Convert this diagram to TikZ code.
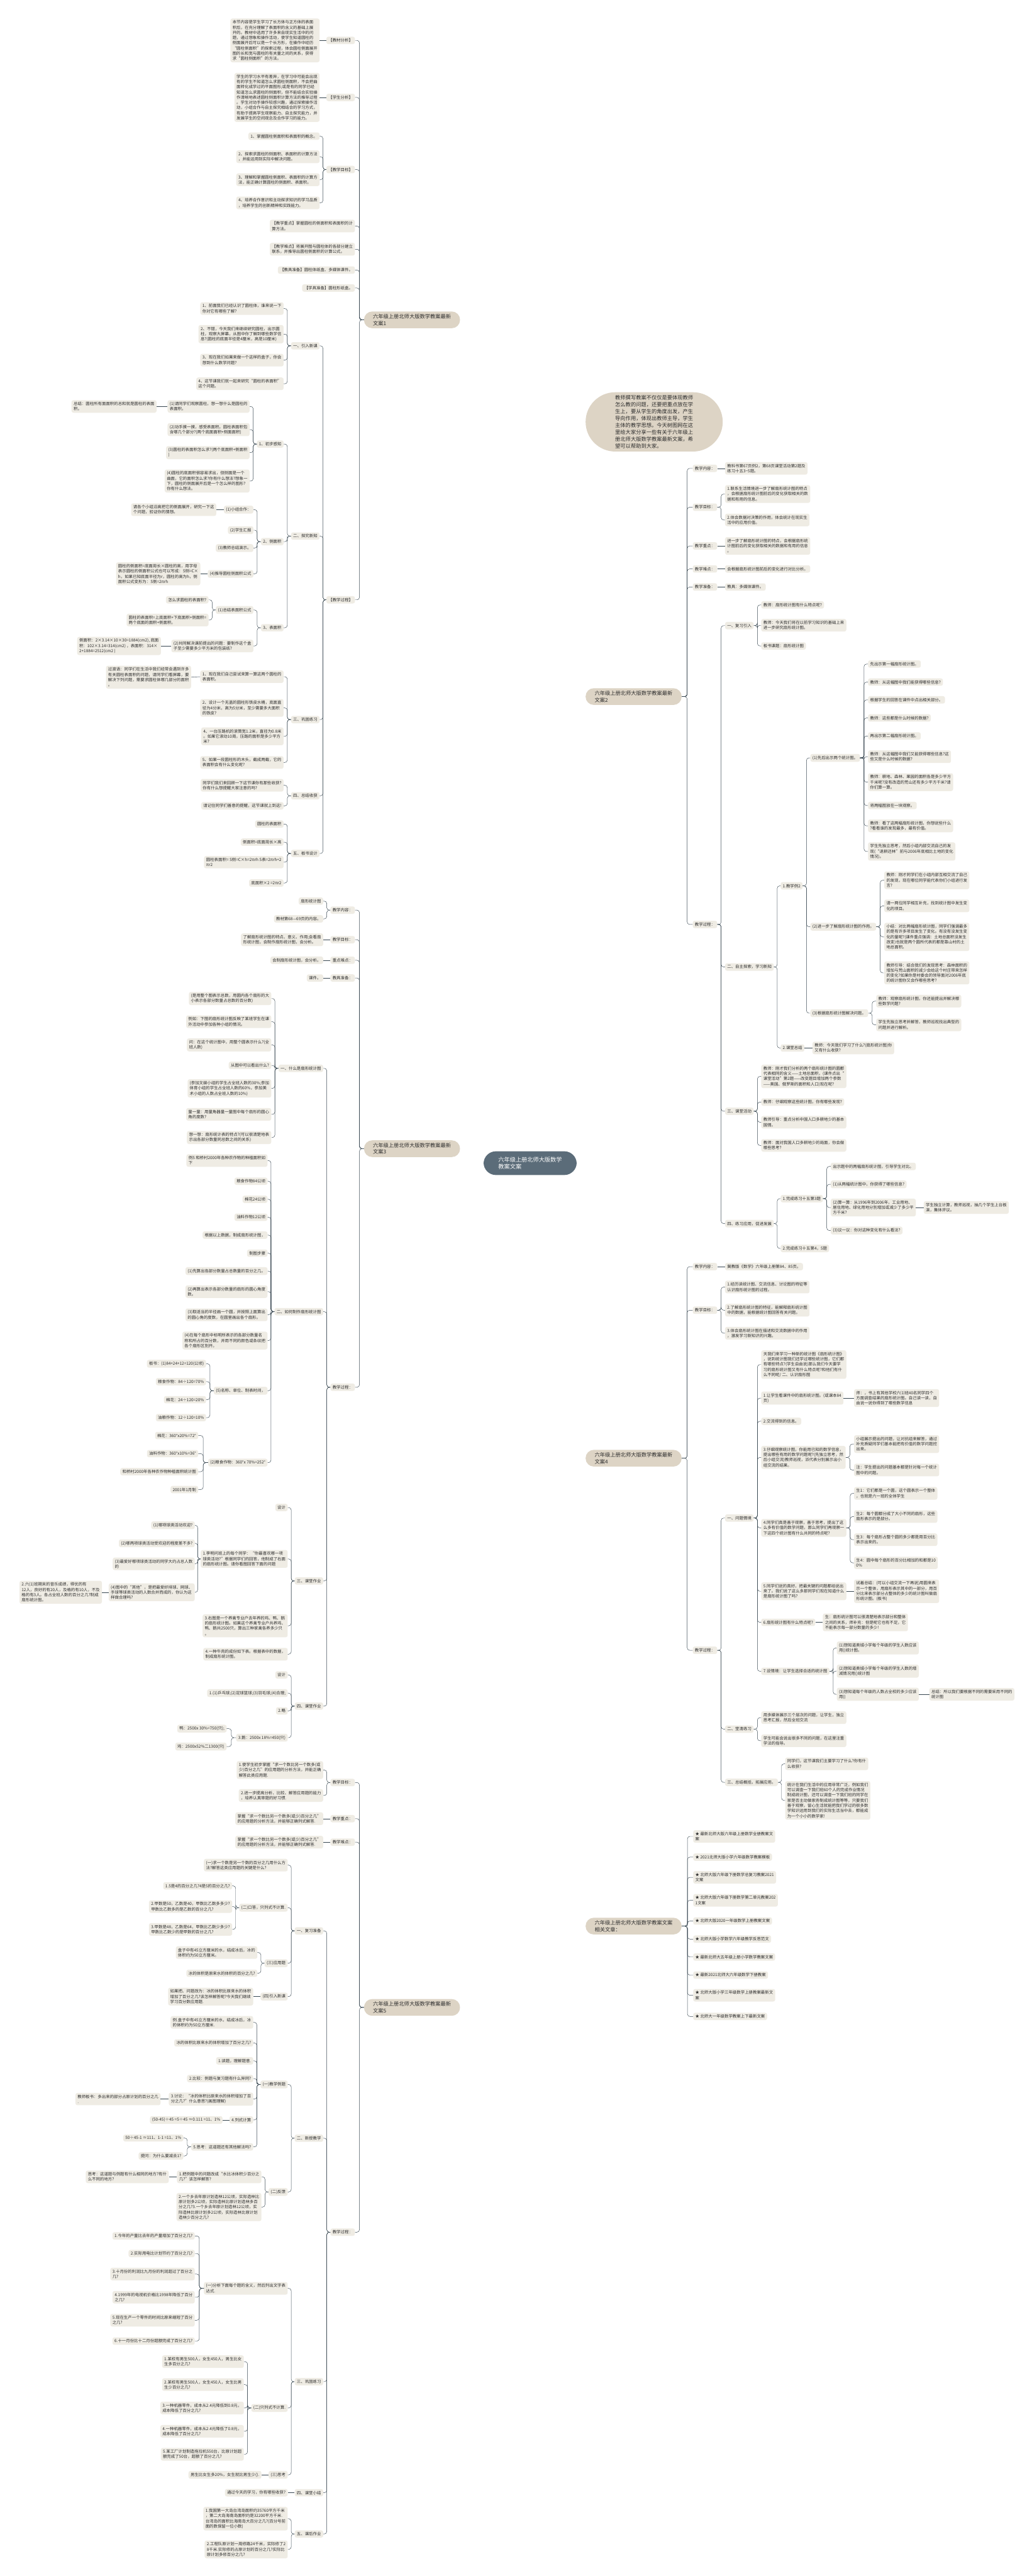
\documentclass[tikz,border=0pt]{standalone}
\usepackage{fontspec}
\setmainfont{Noto Sans CJK SC}
\usetikzlibrary{calc,backgrounds}
\definecolor{boxc}{RGB}{239,236,228}
\definecolor{topc}{RGB}{221,212,197}
\definecolor{rootc}{RGB}{91,108,121}
\definecolor{linec}{RGB}{55,70,80}
\definecolor{inkc}{RGB}{45,45,45}
\tikzset{
  leaf/.style={fill=boxc, text=inkc, rounded corners=1.2mm, inner xsep=1.3mm, inner ysep=1.1mm, align=left, font={\fontsize{7pt}{9pt}\selectfont}},
  lb/.style={leaf, anchor=east},
  rb/.style={leaf, anchor=west},
  topic/.style={fill=topc, text=inkc, rounded corners=5mm, inner xsep=5.5mm, inner ysep=1.6mm, align=left, font={\fontsize{9pt}{11.5pt}\selectfont}},
  desc/.style={fill=topc, text=inkc, rounded corners=18mm, inner xsep=18mm, inner ysep=1.8mm, align=left, anchor=west, font={\fontsize{9pt}{12pt}\selectfont}},
  rootbox/.style={fill=rootc, text=white, rounded corners=7.5mm, inner xsep=9mm, inner ysep=3.3mm, align=left, font={\fontsize{10pt}{13pt}\selectfont}},
  link/.style={draw=linec, line width=0.5pt, rounded corners=1.5mm},
  trunk/.style={draw=linec, line width=0.7pt}
}
% bracket links, left and right
\newcommand\toL[2]{\foreach \ch in {#2}{\draw[link] (#1.west) -| ($(#1.west)!.5!(\ch.east)$) |- (\ch.east);}}
\newcommand\toR[2]{\foreach \ch in {#2}{\draw[link] (#1.east) -| ($(#1.east)!.5!(\ch.west)$) |- (\ch.west);}}
\newcommand\oneL[2]{\draw[link] (#1.west) -- (#2.east);}
\newcommand\oneR[2]{\draw[link] (#1.east) -- (#2.west);}

\begin{document}
\begin{tikzpicture}[x=1mm, y=-1mm]
\fill[white] (0,0) rectangle (628,1568);
\useasboundingbox (0,0) rectangle (628,1568);

% root and main topics
\node[rootbox] (rootn) at (322.7,708) {六年级上册北师大版数学\\教案文案};
\node[desc] (intro) at (356.4,256.8) {教师撰写教案不仅仅是要体现教师\\怎么教的问题，还要把重点放在学\\生上，要从学生的角度出发，产生\\导向作用，体现出教师主导，学生\\主体的教学思想。今天树图网在这\\里给大家分享一些有关于六年级上\\册北师大版数学教案最新文案，希\\望可以帮助到大家。};
\node[topic, anchor=west] (A) at (221.5,194.7) {六年级上册北师大版数学教案最新\\文案1};
\node[topic, anchor=west] (B) at (356.4,424.0) {六年级上册北师大版数学教案最新\\文案2};
\node[topic, anchor=west] (C) at (221.5,699.2) {六年级上册北师大版数学教案最新\\文案3};
\node[topic, anchor=west] (D) at (356.4,887.6) {六年级上册北师大版数学教案最新\\文案4};
\node[topic, anchor=west] (E) at (221.5,1221.9) {六年级上册北师大版数学教案最新\\文案5};
\node[topic, anchor=west] (F) at (356.4,1172.4) {六年级上册北师大版数学教案文案\\相关文章：};

\begin{scope}[on background layer]
\draw[trunk] (332,701) .. controls (333,287) and (337,256.8) .. (intro.west);
\draw[trunk] (332,701) .. controls (333,454) and (337,424.0) .. (B.west);
\draw[trunk] (332,716) .. controls (333,857) and (337,887.6) .. (D.west);
\draw[trunk] (332,716) .. controls (333,1142) and (337,1172.4) .. (F.west);
\draw[trunk] (306,701) .. controls (304,225) and (298,194.7) .. (A.east);
\draw[trunk] (302,708) .. controls (290,708) and (288,699.2) .. (C.east);
\draw[trunk] (306,716) .. controls (304,1192) and (298,1221.9) .. (E.east);
\end{scope}

% ================= 文案1
\node[lb] (a1) at (216.1,24.6) {【教材分析】};
\node[lb] (a1t) at (194.6,24.6) {本节内容是学生学习了长方体与正方体的表面\\积后，在充分理解了表面积的含义的基础上展\\开的。教材中选用了许多来自现实生活中的问\\题，通过想象和操作活动，使学生知道圆柱的\\侧面展开后可以是一个长方形，在操作中经历\\“圆柱侧面积”的探索过程，体会圆柱侧面展开\\图的长和宽与圆柱的有关量之间的关系，获得\\求“圆柱侧面积”的方法。};
\node[lb] (a2) at (216.1,59.3) {【学生分析】};
\node[lb] (a2t) at (194.6,59.3) {学生的学习水平有差异，在学习中可能会出现\\有的学生不知道怎么求圆柱侧面积，不会把曲\\面转化成学过的平面图形;或是有的同学已经\\知道怎么求圆柱的侧面积，但不能结合实验操\\作清晰地表述圆柱侧面积计算方法的推导过程\\。学生对动手操作较感兴趣，通过探索操作活\\动，小组合作与自主探究相结合的学习方式，\\有助于提高学生观察能力、自主探究能力，并\\发展学生的空间观念及合作学习的能力。};
\node[lb] (a3) at (216.1,103.2) {【教学目标】};
\node[lb] (a31) at (194.6,82.9) {1、掌握圆柱侧面积和表面积的概念。};
\node[lb] (a32) at (194.6,95.4) {2、探索求圆柱的侧面积、表面积的计算方法\\，并能运用到实际中解决问题。};
\node[lb] (a33) at (194.6,109.4) {3、理解和掌握圆柱侧面积、表面积的计算方\\法，能正确计算圆柱的侧面积、表面积。};
\node[lb] (a34) at (194.6,123.5) {4、培养合作意识和主动探求知识的学习品质\\，培养学生的创新精神和实践能力。};
\node[lb] (a4) at (216.1,137.6) {【教学重点】掌握圆柱的侧面积和表面积的计\\算方法。};
\node[lb] (a5) at (216.1,151.7) {【教学难点】将展开图与圆柱体的各部分建立\\联系，并推导出圆柱侧面积的计算公式。};
\node[lb] (a6) at (216.1,164.4) {【教具准备】圆柱体纸盒、多媒体课件。};
\node[lb] (a7) at (216.1,175.3) {【学具准备】圆柱形纸盒。};
\node[lb] (a8) at (216.1,365.1) {【教学过程】};
\node[lb] (a81) at (194.6,210.5) {一、引入新课};
\node[lb] (a811) at (172.7,187.8) {1、前面我们已经认识了圆柱体，谁来说一下\\你对它有哪些了解?};
\node[lb] (a812) at (172.7,203.4) {2、不错，今天我们来继续研究圆柱，出示圆\\柱，观察大屏幕，从图中你了解到哪些数学信\\息?(圆柱的底面半径是4厘米，高是10厘米)};
\node[lb] (a813) at (172.7,219.2) {3、现在我们如果来做一个这样的盒子，你会\\想到什么数学问题?};
\node[lb] (a814) at (172.7,233.6) {4、这节课我们就一起来研究“圆柱的表面积”\\这个问题。};
\node[lb] (a82) at (194.6,326.3) {二、探究新知};
\node[lb] (a821) at (172.7,270.3) {1、初步感知};
\node[lb] (a8211) at (152.0,247.4) {(1)请同学们观察圆柱，想一想什么是圆柱的\\表面积。};
\node[lb] (a8211x) at (95.4,247.4) {总结：圆柱所有面面积的总和就是圆柱的表面\\积。};
\node[lb] (a8212) at (152.0,261.5) {(2)动手摸一摸，感受表面积。圆柱表面积包\\含哪几个部分?(两个底面面积+侧面面积)};
\node[lb] (a8213) at (152.0,275.5) {(3)圆柱的表面积怎么求?(两个底面积+侧面积\\)};
\node[lb] (a8214) at (152.0,292.8) {(4)圆柱的底面积很容易求出，但侧面是一个\\曲面，它的面积怎么求?你有什么想法?想象一\\下，圆柱的侧面展开后是一个怎么样的图形?\\你有什么想法。};
\node[lb] (a822) at (172.7,329.7) {2、侧面积};
\node[lb] (a8221) at (154.3,310.2) {(1)小组合作：};
\node[lb] (a8221x) at (131.7,310.2) {请各个小组沿高把它的侧面展开，研究一下这\\个问题，验证你的猜想。};
\node[lb] (a8222) at (154.3,322.7) {(2)学生汇报};
\node[lb] (a8223) at (154.3,333.6) {(3)教师总结演示。};
\node[lb] (a8224) at (154.3,349.3) {(4)推导圆柱侧面积公式};
\node[lb] (a8224x) at (122.0,349.3) {圆柱的侧面积=底面周长×圆柱的高，用字母\\表示圆柱的侧面积公式也可以写成：S侧=C×\\h，如果已知底面半径为r，圆柱的高为h，侧\\面积公式变形为：S侧=2πrh};
\node[lb] (a823) at (172.7,382.1) {3、表面积};
\node[lb] (a8231) at (154.3,371.3) {(1)总结表面积公式};
\node[lb] (a82311) at (127.0,365.1) {怎么求圆柱的表面积?};
\node[lb] (a82312) at (127.0,377.4) {圆柱的表面积=上底面积+下底面积+侧面积=\\两个底面的面积+侧面积。};
\node[lb] (a8232) at (154.3,393.2) {(2)共同解决课前提出的问题：要制作这个盒\\子至少需要多少平方米的包装纸?};
\node[lb] (a8232x) at (98.0,393.2) {侧面积：2×3.14×10×30=1884(cm2), 底面\\积：102×3.14=314(cm2) ，表面积：314×\\2+1884=2512(cm2 )};
\node[lb] (a83) at (194.6,438.0) {三、巩固练习};
\node[lb] (a831) at (172.7,411.9) {1、现在我们自己尝试来算一算这两个圆柱的\\表面积。};
\node[lb] (a831x) at (116.4,412.2) {过渡语：同学们在生活中我们经常会遇到许多\\有关圆柱表面积的问题，请同学们看屏幕，要\\解决下列问题，需要求圆柱体哪几部分的面积\\。};
\node[lb] (a832) at (172.7,430.9) {2、设计一个无盖的圆柱形铁皮水桶，底面直\\径为4分米，高为5分米，至少需要多大面积\\的铁皮?};
\node[lb] (a833) at (172.7,448.2) {4、一台压路机的滚筒宽1.2米，直径为0.8米\\。如果它滚动10周，压路的面积是多少平方\\米?};
\node[lb] (a834) at (172.7,464.1) {5、如果一段圆柱形的木头，截成两截，它的\\表面积会有什么变化呢?};
\node[lb] (a84) at (194.6,484.4) {四、总结收获};
\node[lb] (a841) at (172.7,478.0) {同学们我们来回顾一下这节课你有那些收获?\\你有什么想提醒大家注意的吗?};
\node[lb] (a842) at (172.7,490.5) {请记住同学们善意的提醒，这节课就上到这!};
\node[lb] (a85) at (194.6,519.5) {五、板书设计};
\node[lb] (a851) at (172.7,501.6) {圆柱的表面积};
\node[lb] (a852) at (172.7,512.6) {侧面积=底面周长×高};
\node[lb] (a853) at (172.7,524.8) {圆柱表面积= S侧=C×h=2πrh S表=2πrh+2\\πr2};
\node[lb] (a854) at (172.7,537.5) {底面积×2 =2πr2};

\toL{A}{a1,a2,a3,a4,a5,a6,a7,a8}
\oneL{a1}{a1t} \oneL{a2}{a2t}
\toL{a3}{a31,a32,a33,a34}
\toL{a8}{a81,a82,a83,a84,a85}
\toL{a81}{a811,a812,a813,a814}
\toL{a82}{a821,a822,a823}
\toL{a821}{a8211,a8212,a8213,a8214}
\oneL{a8211}{a8211x}
\toL{a822}{a8221,a8222,a8223,a8224}
\oneL{a8221}{a8221x} \oneL{a8224}{a8224x}
\toL{a823}{a8231,a8232}
\toL{a8231}{a82311,a82312}
\oneL{a8232}{a8232x}
\toL{a83}{a831,a832,a833,a834}
\oneL{a831}{a831x}
\toL{a84}{a841,a842}
\toL{a85}{a851,a852,a853,a854}

% ================= 文案3
\node[lb] (c1) at (216.1,554.0) {教学内容：};
\node[lb] (c11) at (196.8,548.5) {扇形统计图};
\node[lb] (c12) at (196.8,559.3) {教材第68—69页的内容。};
\node[lb] (c2) at (216.1,572.0) {教学目标：};
\node[lb] (c21) at (196.8,572.0) {了解扇形统计图的特点、意义、作用;会看扇\\形统计图，会制作扇形统计图，会分析。};
\node[lb] (c3) at (216.1,584.5) {重点难点：};
\node[lb] (c31) at (196.8,584.5) {会制扇形统计图，会分析。};
\node[lb] (c4) at (216.1,595.3) {教具准备：};
\node[lb] (c41) at (196.8,595.3) {课件。};
\node[lb] (c5) at (216.1,844.4) {教学过程：};
\node[lb] (c51) at (196.8,650.3) {一、什么是扇形统计图};
\node[lb] (c51a) at (165.2,607.8) {(是用整个图表示总数，用圆内各个扇形的大\\小表示各部分数量占总数的百分数)};
\node[lb] (c51b) at (165.2,621.9) {例如：下图的扇形统计图反映了某班学生在课\\外活动中参加各种小组的情况。};
\node[lb] (c51c) at (165.2,636.0) {问：在这个统计图中，用整个圆表示什么?(全\\班人数)};
\node[lb] (c51d) at (165.2,648.5) {从图中可以看出什么?};
\node[lb] (c51e) at (165.2,662.5) {(参加文娱小组的学生占全班人数的30\%;参加\\体育小组的学生占全班人数的60\%，参加美\\术小组的人数占全班人数的10\%)};
\node[lb] (c51f) at (165.2,678.3) {量一量：用量角器量一量图中每个扇形的圆心\\角的度数?};
\node[lb] (c51g) at (165.2,692.4) {想一想：扇形统计表的特点?(可以很清楚地表\\示出各部分数量同总数之间的关系)};
\node[lb] (c52) at (196.8,798.4) {二、如何制作扇形统计图};
\node[lb] (c52a) at (162.9,706.4) {例5 和桥村2000年各种农作物的种植面积如\\下};
\node[lb] (c52b) at (162.9,719.0) {粮食作物84公顷};
\node[lb] (c52c) at (162.9,730.0) {棉花24公顷};
\node[lb] (c52d) at (162.9,740.9) {油料作物12公顷};
\node[lb] (c52e) at (162.9,751.8) {根据以上数据，制成扇形统计图，};
\node[lb] (c52f) at (162.9,762.8) {制图步骤};
\node[lb] (c52g) at (162.9,773.7) {(1)先算出各部分数量占总数量的百分之几。};
\node[lb] (c52h) at (162.9,786.2) {(2)再算出表示各部分数量的扇形的圆心角度\\数。};
\node[lb] (c52i) at (162.9,800.3) {(3)取适当的半径画一个圆，并按照上面算出\\的圆心角的度数，在圆里画出各个扇形。};
\node[lb] (c52j) at (162.9,816.0) {(4)在每个扇形中标明所表示的各部分数量名\\称和所占的百分数，并用不同的颜色或条纹把\\各个扇形区别开。};
\node[lb] (c52k) at (162.9,846.5) {(5)名称、单位、制表时间，};
\node[lb] (c52k1) at (125.5,830.1) {板书：(1)84+24+12=120(公顷)};
\node[lb] (c52k2) at (125.5,841.0) {粮食作物：84÷120=70\%};
\node[lb] (c52k3) at (125.5,852.0) {棉花：24÷120=20\%};
\node[lb] (c52k4) at (125.5,862.9) {油粮作物：12÷120=10\%};
\node[lb] (c52l) at (162.9,890.3) {(2)粮食作物：360°x 70\%=252°};
\node[lb] (c52l1) at (120.7,873.8) {棉花：360°x20\%=72°};
\node[lb] (c52l2) at (120.7,884.8) {油料作物：360°x10\%=36°};
\node[lb] (c52l3) at (120.7,895.8) {和桥村2000年各种农作物种植面积统计图};
\node[lb] (c52l4) at (120.7,906.7) {2001年1月制};
\node[lb] (c53) at (196.8,962.3) {三、课堂作业};
\node[lb] (c53a) at (175.2,917.6) {设计};
\node[lb] (c53b) at (175.2,948.9) {1.李明问班上的每个同学：“你最喜欢哪一项\\球类活动?”根据同学们的回答，他制成了右面\\的扇形统计图。请你看图回答下面的问题};
\node[lb] (c53b1) at (118.6,928.4) {(1)哪项球类活动欢迎?};
\node[lb] (c53b2) at (118.6,939.4) {(2)哪两项球类活动受欢迎的程度差不多?};
\node[lb] (c53b3) at (118.6,951.9) {(3)最爱好哪项球类活动的同学大约占总人数\\的};
\node[lb] (c53b4) at (118.6,969.2) {(4)图中的“其他”，是把最爱好排球、网球、\\手球等球类活动的人数合并而成的，你认为这\\样做合理吗?};
\node[lb] (c53b4x) at (62.1,969.2) {2.六(1)班期末的音乐成绩，得优的有\\12人，良好的有20人，及格的有10人，不及\\格的有3人。各占全班人数的百分之几?制成\\扇形统计图。};
\node[lb] (c53c) at (175.2,989.6) {3.右图是一个养禽专业户去年养的鸡、鸭、鹅\\的扇形统计图。如果这个养禽专业户共养鸡、\\鸭、鹅共2500只，算出三种家禽各养多少只\\。};
\node[lb] (c53d) at (175.2,1006.9) {4.一种牛肉的成份如下表。根据表中的数据，\\制成扇形统计图。};
\node[lb] (c54) at (196.8,1038.5) {四、课堂作业};
\node[lb] (c54a) at (175.2,1019.5) {设计};
\node[lb] (c54b) at (175.2,1030.6) {1.(1)乒乓球;(2)足球篮球;(3)羽毛球;(4)合理;};
\node[lb] (c54c) at (175.2,1041.4) {2.略};
\node[lb] (c54d) at (175.2,1057.7) {3.鹅：2500x 18\%=450(只)};
\node[lb] (c54d1) at (138.0,1052.2) {鸭：2500x 30\%=750(只);};
\node[lb] (c54d2) at (138.0,1063.1) {鸡：2500x52\%二1300(只)};

\toL{C}{c1,c2,c3,c4,c5}
\toL{c1}{c11,c12}
\oneL{c2}{c21} \oneL{c3}{c31} \oneL{c4}{c41}
\toL{c5}{c51,c52,c53,c54}
\toL{c51}{c51a,c51b,c51c,c51d,c51e,c51f,c51g}
\toL{c52}{c52a,c52b,c52c,c52d,c52e,c52f,c52g,c52h,c52i,c52j,c52k,c52l}
\toL{c52k}{c52k1,c52k2,c52k3,c52k4}
\toL{c52l}{c52l1,c52l2,c52l3,c52l4}
\toL{c53}{c53a,c53b,c53c,c53d}
\toL{c53b}{c53b1,c53b2,c53b3,c53b4}
\oneL{c53b4}{c53b4x}
\toL{c54}{c54a,c54b,c54c,c54d}
\toL{c54d}{c54d1,c54d2}

% ================= 文案5
\node[lb] (e1) at (216.1,1085.0) {教学目标：};
\node[lb] (e11) at (196.8,1077.4) {1.使学生初步掌握“求一个数比另一个数多(或\\少)百分之几”的应用题的分析方法，并能正确\\解答此类应用题.};
\node[lb] (e12) at (196.8,1092.9) {2.进一步提高分析、比较、解答应用题的能力\\，培养认真审题的好习惯.};
\node[lb] (e2) at (216.1,1107.0) {教学重点：};
\node[lb] (e21) at (196.8,1107.0) {掌握“求一个数比另一个数多(或少)百分之几”\\的应用题的分析方法，并能够正确列式解答.};
\node[lb] (e3) at (216.1,1121.3) {教学难点：};
\node[lb] (e31) at (196.8,1121.3) {掌握“求一个数比另一个数多(或少)百分之几”\\的应用题的分析方法，并能够正确列式解答.};
\node[lb] (e4) at (216.1,1358.7) {教学过程：};
\node[lb] (e41) at (196.8,1175.3) {一、复习准备};
\node[lb] (e41a) at (175.2,1135.3) {(一)求一个数是另一个数的百分之几用什么方\\法?解答这类应用题的关键是什么?};
\node[lb] (e41b) at (175.2,1161.2) {(二)口答，只列式不计算.};
\node[lb] (e41b1) at (141.4,1147.9) {1.5是4的百分之几?4是5的百分之几?};
\node[lb] (e41b2) at (141.4,1160.5) {2.甲数是50，乙数是40，甲数比乙数多多少?\\甲数比乙数多的是乙数的百分之几?};
\node[lb] (e41b3) at (141.4,1174.4) {3.甲数是48，乙数是64，甲数比乙数少多少?\\甲数比乙数少的是甲数的百分之几?};
\node[lb] (e41c) at (175.2,1195.0) {(三)应用题};
\node[lb] (e41c1) at (156.7,1188.5) {盒子中有45立方厘米的水，结成冰后，冰的\\体积约为50立方厘米。};
\node[lb] (e41c2) at (156.7,1201.1) {冰的体积是原来水的体积的百分之几?};
\node[lb] (e41d) at (175.2,1215.3) {(四)引入新课};
\node[lb] (e41d1) at (154.2,1215.3) {如果把、问题改为：冰的体积比原来水的体积\\增加了百分之几?该怎样解答呢?今天我们继续\\学习百分数应用题.};
\node[lb] (e42) at (196.8,1301.5) {二、新授教学};
\node[lb] (e42a) at (175.2,1268.8) {(一)教学例题};
\node[lb] (e42a1) at (154.2,1231.0) {例.盒子中有45立方厘米的水，结成冰后，冰\\的体积约为50立方厘米.};
\node[lb] (e42a2) at (154.2,1243.5) {冰的体积比原来水的体积增加了百分之几?};
\node[lb] (e42a3) at (154.2,1254.4) {1.读题，理解题意.};
\node[lb] (e42a4) at (154.2,1265.2) {2.比较：例题与复习题有什么异同?};
\node[lb] (e42a5) at (154.2,1277.7) {3.讨论：“冰的体积比原来水的体积增加了百\\分之几?”什么意思?(画图理解)};
\node[lb] (e42a5x) at (97.8,1277.7) {教师板书：多出来的部分占原计划的百分之几\\.};
\node[lb] (e42a6) at (154.2,1290.4) {4.列式计算};
\node[lb] (e42a6x) at (135.5,1290.4) {(50-45)÷45 =5÷45 ≈0.111 =11、1\%};
\node[lb] (e42a7) at (154.2,1306.8) {5.思考：这道题还有其他解法吗?};
\node[lb] (e42a7p) at (111.7,1301.4) {50÷45-1 ≈111、1-1 =11、1\%};
\node[lb] (e42a7q) at (111.7,1312.3) {提问：为什么要减去1?};
\node[lb] (e42b) at (175.2,1334.2) {(二)反馈};
\node[lb] (e42b1) at (159.2,1325.0) {1.把例题中的问题改成“水比冰体积少百分之\\几?”该怎样解答?};
\node[lb] (e42b1x) at (102.8,1325.0) {思考：这道题与例题有什么相同的地方?有什\\么不同的地方?};
\node[lb] (e42b2) at (159.2,1343.4) {2.一个乡去年原计划造林12公顷，实际造林比\\原计划多2公顷，实际造林比原计划造林多百\\分之几?3.一个乡去年原计划造林12公顷，实\\际造林比原计划多2公顷，实际造林比原计划\\造林少百分之几?};
\node[lb] (e43) at (196.8,1449.7) {三、巩固练习};
\node[lb] (e43a) at (175.2,1392.9) {(一)分析下面每个题的含义，然后列出文字表\\达式.};
\node[lb] (e43a1) at (118.6,1361.0) {1.今年的产量比去年的产量增加了百分之几?};
\node[lb] (e43a2) at (118.6,1371.7) {2.实际用电比计划节约了百分之几?};
\node[lb] (e43a3) at (118.6,1384.2) {3.十月份的利润比九月份的利润超过了百分之\\几?};
\node[lb] (e43a4) at (118.6,1398.3) {4.1999年的电视机价格比1998年降低了百分\\之几?};
\node[lb] (e43a5) at (118.6,1412.3) {5.现在生产一个零件的时间比原来缩短了百分\\之几?};
\node[lb] (e43a6) at (118.6,1425.0) {6.十一月份比十二月份超额完成了百分之几?};
\node[lb] (e43b) at (175.2,1465.7) {(二)只列式不计算.};
\node[lb] (e43b1) at (148.5,1437.5) {1.某校有男生500人，女生450人，男生比女\\生多百分之几?};
\node[lb] (e43b2) at (148.5,1451.5) {2.某校有男生500人，女生450人，女生比男\\生少百分之几?};
\node[lb] (e43b3) at (148.5,1465.7) {3.一种机器零件，成本从2.4元降低到0.8元，\\成本降低了百分之几?};
\node[lb] (e43b4) at (148.5,1479.9) {4.一种机器零件，成本从2.4元降低了0.8元，\\成本降低了百分之几?};
\node[lb] (e43b5) at (148.5,1493.9) {5.某工厂计划制造拖拉机550台，比原计划超\\额完成了50台，超额了百分之几?};
\node[lb] (e43c) at (175.2,1506.4) {(三)思考};
\node[lb] (e43c1) at (159.2,1506.4) {男生比女生多20\%，女生就比男生少().};
\node[lb] (e44) at (196.8,1517.3) {四、课堂小结};
\node[lb] (e44a) at (175.2,1517.3) {通过今天的学习，你有哪些收获?};
\node[lb] (e45) at (196.8,1542.4) {五、课后作业};
\node[lb] (e45a) at (175.2,1533.1) {1.我国第一大岛台湾岛面积约35760平方千米\\，第二大岛海南岛面积约是32200平方千米.\\台湾岛的面积比海南岛大百分之几?(百分号前\\面的数保留一位小数)};
\node[lb] (e45b) at (175.2,1551.8) {2.工程队原计划一周修路24千米，实际修了2\\8千米.实际修的占原计划的百分之几?实际比\\原计划多修百分之几?};

\toL{E}{e1,e2,e3,e4}
\toL{e1}{e11,e12}
\oneL{e2}{e21} \oneL{e3}{e31}
\toL{e4}{e41,e42,e43,e44,e45}
\toL{e41}{e41a,e41b,e41c,e41d}
\toL{e41b}{e41b1,e41b2,e41b3}
\toL{e41c}{e41c1,e41c2}
\oneL{e41d}{e41d1}
\toL{e42}{e42a,e42b}
\toL{e42a}{e42a1,e42a2,e42a3,e42a4,e42a5,e42a6,e42a7}
\oneL{e42a5}{e42a5x} \oneL{e42a6}{e42a6x}
\toL{e42a7}{e42a7p,e42a7q}
\toL{e42b}{e42b1,e42b2}
\oneL{e42b1}{e42b1x}
\toL{e43}{e43a,e43b,e43c}
\toL{e43a}{e43a1,e43a2,e43a3,e43a4,e43a5,e43a6}
\toL{e43b}{e43b1,e43b2,e43b3,e43b4,e43b5}
\oneL{e43c}{e43c1}
\oneL{e44}{e44a}
\toL{e45}{e45a,e45b}

% ================= 文案2
\node[rb] (b1) at (421.6,285.1) {教学内容：};
\node[rb] (b1a) at (441.3,285.1) {教科书第67页例2，第68页课堂活动第2题及\\练习十五3\textasciitilde{}5题。};
\node[rb] (b2) at (421.6,308.7) {教学目标：};
\node[rb] (b2a) at (441.3,300.7) {1.联系生活情境进一步了解扇形统计图的特点\\，会根据扇形统计图前后的变化获取相关的数\\据和有用的信息。};
\node[rb] (b2b) at (441.3,316.5) {2.体会数据对决策的作用，体会统计在现实生\\活中的应用价值。};
\node[rb] (b3) at (421.6,332.3) {教学重点：};
\node[rb] (b3a) at (441.3,332.3) {进一步了解扇形统计图的特点，会根据扇形统\\计图前后的变化获取相关的数据和有用的信息\\。};
\node[rb] (b4) at (421.6,346.3) {教学难点：};
\node[rb] (b4a) at (441.3,346.3) {会根据扇形统计图前后的变化进行对比分析。};
\node[rb] (b5) at (421.6,357.3) {教学准备：};
\node[rb] (b5a) at (441.3,357.3) {教具：多媒体课件。};
\node[rb] (b6) at (421.6,562.7) {教学过程：};
\node[rb] (b61) at (441.3,380.8) {一、复习引入};
\node[rb] (b61a) at (463.3,368.2) {教师：扇形统计图有什么特点呢?};
\node[rb] (b61b) at (463.3,380.6) {教师：今天我们将在以前学习知识的基础上来\\进一步研究扇形统计图。};
\node[rb] (b61c) at (463.3,393.2) {板书课题：扇形统计图};
\node[rb] (b62) at (441.3,588.6) {二、自主探索，学习新知};
\node[rb] (b621) at (475.1,539.2) {1.教学例2};
\node[rb] (b6211) at (493.2,461.3) {(1)先后出示两个统计图。};
\node[rb] (b6211a) at (528.3,404.2) {先出示第一幅扇形统计图。};
\node[rb] (b6211b) at (528.3,415.2) {教师：从这幅图中我们能获得哪些信息?};
\node[rb] (b6211c) at (528.3,426.0) {根据学生的回答在课件中点出相关部分。};
\node[rb] (b6211d) at (528.3,437.0) {教师：这些都是什么时候的数据?};
\node[rb] (b6211e) at (528.3,448.0) {再出示第二幅扇形统计图。};
\node[rb] (b6211f) at (528.3,460.6) {教师：从这幅图中我们又能获得哪些信息?这\\些又是什么时候的数据?};
\node[rb] (b6211g) at (528.3,476.1) {教师：耕地、森林、果园的面积各是多少平方\\千米呢?没有改造的荒山还有多少平方千米?请\\你们算一算。};
\node[rb] (b6211h) at (528.3,490.3) {将两幅图放在一块观察。};
\node[rb] (b6211i) at (528.3,502.7) {教师：看了这两幅扇形统计图，你想说些什么\\?看看谁的发现最多，最有价值。};
\node[rb] (b6211j) at (528.3,518.3) {学生先独立思考，然后小组内部交流自己的发\\现(“退耕还林”前与2006年底相比土地的变化\\情况)。};
\node[rb] (b6212) at (493.2,564.1) {(2)进一步了解扇形统计图的作用。};
\node[rb] (b6212a) at (538.2,535.8) {教师：刚才同学们在小组内部互相交流了自己\\的发现，现在哪位同学能代表你们小组进行发\\言?};
\node[rb] (b6212b) at (538.2,551.4) {请一两位同学相互补充，找到统计图中发生变\\化的项目。};
\node[rb] (b6212c) at (538.2,570.3) {小结：对比两幅扇形统计图，同学们强调最多\\的是有许多项目发生了变化。有没有没发生变\\化的量呢?(课件重点强调：土地总面积没发生\\改变)也就是两个圆所代表的都是靠山村的土\\地总面积。};
\node[rb] (b6212d) at (538.2,592.2) {教师引导：结合我们的发现思考：森林面积的\\增加与荒山面积的减少会给这个村庄带来怎样\\的变化?如果你是村委会的领导面对2006年底\\的统计图你又会作哪些思考?};
\node[rb] (b6213) at (493.2,616.7) {(3)根据扇形统计图解决问题。};
\node[rb] (b6213a) at (533.3,609.4) {教师：观察扇形统计图，你还能提出并解决哪\\些数学问题?};
\node[rb] (b6213b) at (533.3,623.8) {学生先独立思考并解答，教师巡视找出典型的\\问题并进行解析。};
\node[rb] (b622) at (475.1,637.9) {2.课堂总结};
\node[rb] (b622a) at (494.5,637.9) {教师：今天我们学习了什么?(扇形统计图)你\\又有什么收获?};
\node[rb] (b63) at (441.3,676.4) {三、课堂活动};
\node[rb] (b63a) at (463.3,655.2) {教师：刚才我们分析的两个扇形统计图的圆都\\代表相同的含义——土地总面积，(课件点出“\\课堂活动”第2题——改变题目增加两个参数\\——美国、俄罗斯的面积和人口)现在呢?};
\node[rb] (b63b) at (463.3,670.8) {教师：仔细观察这些统计图，你有哪些发现?};
\node[rb] (b63c) at (463.3,683.1) {教师引导：重点分析中国人口多耕地少的基本\\国情。};
\node[rb] (b63d) at (463.3,697.2) {教师：面对我国人口多耕地少的局面，你会做\\哪些思考?};
\node[rb] (b64) at (441.3,744.8) {四、练习应用，促进发展};
\node[rb] (b641) at (475.1,729.6) {1.完成练习十五第3题};
\node[rb] (b641a) at (505.6,710.0) {出示题中的两幅扇形统计图，引导学生对比。};
\node[rb] (b641b) at (505.6,720.9) {(1)从两幅统计图中，你获得了哪些信息?};
\node[rb] (b641c) at (505.6,735.0) {(2)算一算：从1996年到2006年，工业用地、\\居住用地、绿化用地分别增加或减少了多少平\\方千米?};
\node[rb] (b641cx) at (562.2,735.0) {学生独立计算，教师巡视，抽几个学生上台板\\演，集体评议。};
\node[rb] (b641d) at (505.6,749.0) {(3)议一议：你对这种变化有什么看法?};
\node[rb] (b642) at (475.1,759.9) {2.完成练习十五第4，5题};

\toR{B}{b1,b2,b3,b4,b5,b6}
\oneR{b1}{b1a}
\toR{b2}{b2a,b2b}
\oneR{b3}{b3a} \oneR{b4}{b4a} \oneR{b5}{b5a}
\toR{b6}{b61,b62,b63,b64}
\toR{b61}{b61a,b61b,b61c}
\toR{b62}{b621,b622}
\toR{b621}{b6211,b6212,b6213}
\toR{b6211}{b6211a,b6211b,b6211c,b6211d,b6211e,b6211f,b6211g,b6211h,b6211i,b6211j}
\toR{b6212}{b6212a,b6212b,b6212c,b6212d}
\toR{b6213}{b6213a,b6213b}
\oneR{b622}{b622a}
\toR{b63}{b63a,b63b,b63c,b63d}
\toR{b64}{b641,b642}
\toR{b641}{b641a,b641b,b641c,b641d}
\oneR{b641c}{b641cx}

% ================= 文案4
\node[rb] (d1) at (421.6,771.0) {教学内容：};
\node[rb] (d1a) at (441.3,771.0) {冀教版《数学》六年级上册第84、85页。};
\node[rb] (d2) at (421.6,797.5) {教学目标：};
\node[rb] (d2a) at (441.3,783.4) {1.经历读统计图、交流信息、讨论图的特征等\\认识扇形统计图的过程。};
\node[rb] (d2b) at (441.3,797.5) {2.了解扇形统计图的特征，能解释扇形统计图\\中的数据，能根据统计图回答有关问题。};
\node[rb] (d2c) at (441.3,811.5) {3.体会扇形统计图在描述和交流数据中的作用\\，激发学习新知识的兴趣。};
\node[rb] (d3) at (421.6,1004.5) {教学过程：};
\node[rb] (d31) at (441.3,924.0) {一、问题情境};
\node[rb] (d31a) at (463.3,830.6) {天我们来学习一种新的统计图《扇形统计图》\\，说到统计图我们还学过哪些统计图，它们都\\有哪些特点?(学生自由说)那么我们今天要学\\习的扇形统计图又有什么特点呢?和他们有什\\么不同呢/ 二、认识扇形图};
\node[rb] (d31b) at (463.3,851.0) {1.让学生看课件中的扇形统计图。(或课本84\\页)};
\node[rb] (d31bx) at (519.8,851.0) {师：，书上有其他学校六⑴班40名同学四个\\方面调查结果的扇形统计图。自己读一读，自\\由说一说你得到了哪些数学信息};
\node[rb] (d31c) at (463.3,865.1) {2.交流得到的信息。};
\node[rb] (d31d) at (463.3,887.1) {3.仔细观察统计图，你能用已知的数学信息，\\提出哪些有用的数学问题呢?(先独立思考，然\\后小组交流)教师巡视，派代表分别展示出小\\组交流的结果。};
\node[rb] (d31dx) at (519.8,879.0) {小组展示提出的问题，让对抗组来解答，通过\\补充质疑同学们基本能把有价值的数学问题挖\\出来。};
\node[rb] (d31dy) at (519.8,894.8) {注：学生提出的问题基本都是针对每一个统计\\图中的问题。};
\node[rb] (d31e) at (463.3,930.0) {4.同学们真是善于观察，善于思考，提出了这\\么多有价值的数学问题，那么同学们再观察一\\下这四个统计图有什么共同的特点呢?};
\node[rb] (d31e1) at (519.8,909.0) {生1：它们都是一个圆，这个圆表示一个整体\\，也就是六一班的全体学生};
\node[rb] (d31e2) at (519.8,923.1) {生2：每个圆都分成了大小不同的扇形，这些\\扇形表示的是部分。};
\node[rb] (d31e3) at (519.8,937.2) {生3：每个扇形占整个圆的多少都是用百分比\\表示出来的。};
\node[rb] (d31e4) at (519.8,951.3) {生4：圆中每个扇形的百分比相加的和都是10\\0\%};
\node[rb] (d31f) at (463.3,968.6) {5.同学们说的真好，把最关键的问题都给说出\\来了。我们说了这么多那同学们现在知道什么\\是扇形统计图了吗?};
\node[rb] (d31fx) at (519.8,968.6) {试着总结：(可以小组交流一下再说)用圆来表\\示一个整体，用扇形表示其中的一部分，用百\\分比来表示部分占整体的多少的统计图叫做扇\\形统计图。(板书)};
\node[rb] (d31g) at (463.3,987.5) {6.扇形统计图有什么特点呢?};
\node[rb] (d31gx) at (500.8,987.5) {生：扇形统计图可以很清楚地表示部分和整体\\之间的关系，师补充：但是呢它也有不足，它\\不能表示每一部分数量的多少!};
\node[rb] (d31h) at (463.3,1017.3) {7.设情境：让学生选择合适的统计图};
\node[rb] (d31h1) at (509.3,1003.1) {(1)想知道奥城小学每个年级的学生人数应该\\用()统计图。};
\node[rb] (d31h2) at (509.3,1017.2) {(2)想知道奥城小学每个年级的学生人数的增\\减情况用()统计图};
\node[rb] (d31h3) at (509.3,1031.3) {(3)想知道每个年级的人数占全校的多少应该\\用()};
\node[rb] (d31h3x) at (565.6,1031.3) {总结：所以我们要根据不同的需要采用不同的\\统计图};
\node[rb] (d32) at (441.3,1052.5) {二、堂清练习};
\node[rb] (d32a) at (463.3,1045.5) {用多媒体展示三个层次的问题，让学生，独立\\思考汇报，然后全班交流};
\node[rb] (d32b) at (463.3,1059.6) {学生可能会说出很多不同的问题，在这里注重\\学法的指导。};
\node[rb] (d33) at (441.3,1084.9) {三、总结概括，拓展应用。};
\node[rb] (d33a) at (477.9,1073.6) {同学们，这节课我们主要学习了什么?你有什\\么收获?};
\node[rb] (d33b) at (477.9,1095.9) {统计在我们生活中的应用非常广泛，例如我们\\可以调查一下我们班60个人的完成作业情况\\制成统计图，还可以调查一下我们班的同学在\\家是否主动做家务制成统计图等等，只要我们\\善于观察，留心生活就能把我们学过的很多数\\学知识运用到我们的实际生活当中去，都能成\\为一个小小的数学家!};

\toR{D}{d1,d2,d3}
\oneR{d1}{d1a}
\toR{d2}{d2a,d2b,d2c}
\toR{d3}{d31,d32,d33}
\toR{d31}{d31a,d31b,d31c,d31d,d31e,d31f,d31g,d31h}
\oneR{d31b}{d31bx}
\toR{d31d}{d31dx,d31dy}
\toR{d31e}{d31e1,d31e2,d31e3,d31e4}
\oneR{d31f}{d31fx} \oneR{d31g}{d31gx}
\toR{d31h}{d31h1,d31h2,d31h3}
\oneR{d31h3}{d31h3x}
\toR{d32}{d32a,d32b}
\toR{d33}{d33a,d33b}

% ================= 相关文章
\node[rb] (f1) at (421.9,1117.8) {★ 最新北师大版六年级上册数学全册教案文\\案};
\node[rb] (f2) at (421.9,1130.4) {★ 2021北师大版小学六年级数学教案模板};
\node[rb] (f3) at (421.9,1142.7) {★ 北师大版六年级下册数学总复习教案2021\\文案};
\node[rb] (f4) at (421.9,1156.7) {★ 北师大版六年级下册数学第二单元教案202\\1文案};
\node[rb] (f5) at (421.9,1169.3) {★ 北师大版2020一年级数学上册教案文案};
\node[rb] (f6) at (421.9,1180.3) {★ 北师大版小学数学六年级教学反思范文};
\node[rb] (f7) at (421.9,1191.2) {★ 最新北师大五年级上册小学数学教案文案};
\node[rb] (f8) at (421.9,1202.2) {★ 最新2021北师大六年级数学下册教案};
\node[rb] (f9) at (421.9,1214.5) {★ 北师大版小学三年级数学上册教案最新文\\案};
\node[rb] (f10) at (421.9,1227.4) {★ 北师大一年级数学教案上下最新文案};
\toR{F}{f1,f2,f3,f4,f5,f6,f7,f8,f9,f10}
\end{tikzpicture}
\end{document}
